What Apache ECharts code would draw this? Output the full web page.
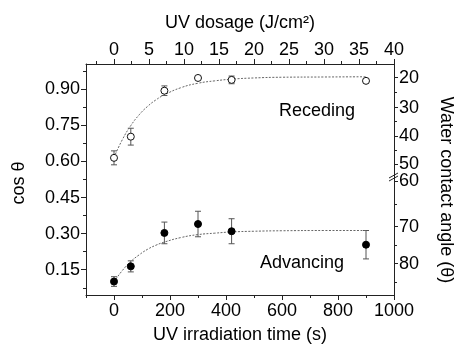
<!DOCTYPE html>
<html lang="en">
<head>
  <meta charset="UTF-8">
  <title>UV irradiation</title>
  <style>
    html, body { margin: 0; padding: 0; background: #fff; }
    #main { width: 455px; height: 347px; }
  </style>
</head>
<body>
  <div id="main"></div>
  <script src="https://cdn.jsdelivr.net/npm/echarts@6/dist/echarts.min.js"></script>
  <script>
    // measured points
    var timeS = [0, 60, 180, 300, 420, 900];
    var recedingCos = [0.615, 0.703, 0.894, 0.947, 0.939, 0.935];
    var recedingErr = [0.029, 0.035, 0.020, 0.005, 0.016, 0.008];
    var advancingCos = [0.101, 0.164, 0.303, 0.340, 0.310, 0.254];
    var advancingErr = [0.020, 0.023, 0.045, 0.053, 0.052, 0.059];

    // fitted curves
    var fitTime = [0, 30, 60, 90, 120, 150, 180, 240, 300, 360, 420, 500, 600, 750, 900];
    var recedingFit = [0.617, 0.691, 0.749, 0.794, 0.829, 0.856, 0.877, 0.907, 0.925, 0.935, 0.942, 0.947, 0.950, 0.951, 0.952];
    var advancingFit = [0.100, 0.147, 0.184, 0.212, 0.235, 0.252, 0.265, 0.284, 0.296, 0.302, 0.307, 0.310, 0.312, 0.313, 0.313];

    // tick labels
    var timeMajor = [0, 200, 400, 600, 800, 1000];
    var timeMinor = [-100, 100, 300, 500, 700, 900];
    var dosageMajor = [0, 5, 10, 15, 20, 25, 30, 35, 40];
    var dosageMinor = [-2.5, 2.5, 7.5, 12.5, 17.5, 22.5, 27.5, 32.5, 37.5];
    var cosMajor = [0.15, 0.30, 0.45, 0.60, 0.75, 0.90];
    var cosMinor = [0.075, 0.225, 0.375, 0.525, 0.675, 0.825, 0.975];
    // right axis: angle labels and where they sit on the cos scale
    var angleLabels = [20, 30, 40, 50, 60, 70, 80];
    var angleAt = [0.948, 0.824, 0.704, 0.590, 0.517, 0.329, 0.175];
    var angleMinorAt = [0.886, 0.766, 0.647, 0.421, 0.252, 0.096];

    var font = 'Liberation Sans';
    var axisColor = '#222';

    function errData(vals, errs) {
      return timeS.map(function (t, i) { return [t, vals[i] - errs[i], vals[i] + errs[i]]; });
    }

    function errorBar(params, api) {
      var x = api.value(0);
      var lo = api.coord([x, api.value(1)]);
      var hi = api.coord([x, api.value(2)]);
      var w = 3;
      var st = { stroke: '#555', lineWidth: 1 };
      return {
        type: 'group',
        children: [
          { type: 'line', shape: { x1: lo[0], y1: lo[1], x2: hi[0], y2: hi[1] }, style: st },
          { type: 'line', shape: { x1: lo[0] - w, y1: lo[1], x2: lo[0] + w, y2: lo[1] }, style: st },
          { type: 'line', shape: { x1: hi[0] - w, y1: hi[1], x2: hi[0] + w, y2: hi[1] }, style: st }
        ]
      };
    }

    function plain(v) { return String(v); }

    function mainAxis(opt) {
      return Object.assign({
        type: 'value',
        gridIndex: 0,
        splitLine: { show: false },
        axisLine: { show: true, onZero: false, lineStyle: { color: axisColor, width: 1 } },
        axisTick: { show: true, inside: false, length: 5, lineStyle: { color: axisColor } },
        axisLabel: { color: '#000', fontSize: 18, fontFamily: font }
      }, opt);
    }

    function minorAxis(opt) {
      return Object.assign({
        type: 'value',
        gridIndex: 1,
        splitLine: { show: false },
        axisLine: { show: false, onZero: false },
        axisLabel: { show: false }
      }, opt);
    }

    var chart = echarts.init(document.getElementById('main'));
    chart.setOption({
      animation: false,
      backgroundColor: '#fff',
      grid: [
        { left: 86, right: 61, top: 64, bottom: 52 },
        { left: 86, right: 61, top: 64, bottom: 52 }
      ],
      xAxis: [
        mainAxis({
          position: 'bottom', min: -100, max: 1000,
          axisTick: { show: true, length: 5, customValues: timeMajor, lineStyle: { color: axisColor } },
          axisLabel: { color: '#000', fontSize: 18, fontFamily: font, margin: 7, customValues: timeMajor, formatter: plain }
        }),
        mainAxis({
          position: 'top', min: -4, max: 40,
          axisTick: { show: true, length: 5, customValues: dosageMajor, lineStyle: { color: axisColor } },
          axisLabel: { color: '#000', fontSize: 18, fontFamily: font, margin: 5, customValues: dosageMajor, formatter: plain }
        }),
        minorAxis({
          position: 'bottom', min: -100, max: 1000,
          axisTick: { show: true, length: 3, customValues: timeMinor, lineStyle: { color: axisColor } }
        }),
        minorAxis({
          position: 'top', min: -4, max: 40,
          axisTick: { show: true, length: 3, customValues: dosageMinor, lineStyle: { color: axisColor } }
        })
      ],
      yAxis: [
        mainAxis({
          position: 'left', min: 0.045, max: 1.005,
          axisTick: { show: true, length: 5, customValues: cosMajor, lineStyle: { color: axisColor } },
          axisLabel: {
            color: '#000', fontSize: 18, fontFamily: font, margin: 6, customValues: cosMajor,
            formatter: function (v) { return v.toFixed(2); }
          }
        }),
        mainAxis({
          position: 'right', min: 0.045, max: 1.005,
          axisTick: { show: true, length: 4, customValues: angleAt, lineStyle: { color: axisColor } },
          axisLabel: {
            color: '#000', fontSize: 18, fontFamily: font, margin: 5, customValues: angleAt,
            formatter: function (v) {
              for (var i = 0; i < angleAt.length; i++) {
                if (Math.abs(angleAt[i] - v) < 1e-6) return String(angleLabels[i]);
              }
              return '';
            }
          }
        }),
        minorAxis({
          position: 'left', min: 0.045, max: 1.005,
          axisTick: { show: true, length: 3, customValues: cosMinor, lineStyle: { color: axisColor } }
        }),
        minorAxis({
          position: 'right', min: 0.045, max: 1.005,
          axisTick: { show: true, length: 3, customValues: angleMinorAt, lineStyle: { color: axisColor } }
        })
      ],
      series: [
        {
          name: 'Receding fit', type: 'line', xAxisIndex: 0, yAxisIndex: 0,
          data: fitTime.map(function (t, i) { return [t, recedingFit[i]]; }),
          smooth: true, showSymbol: false, symbol: 'none',
          lineStyle: { color: '#666', width: 1, type: [2, 1.5] }
        },
        {
          name: 'Advancing fit', type: 'line', xAxisIndex: 0, yAxisIndex: 0,
          data: fitTime.map(function (t, i) { return [t, advancingFit[i]]; }),
          smooth: true, showSymbol: false, symbol: 'none',
          lineStyle: { color: '#666', width: 1, type: [2, 1.5] }
        },
        {
          name: 'Receding err', type: 'custom', xAxisIndex: 0, yAxisIndex: 0,
          renderItem: errorBar, data: errData(recedingCos, recedingErr), z: 3
        },
        {
          name: 'Advancing err', type: 'custom', xAxisIndex: 0, yAxisIndex: 0,
          renderItem: errorBar, data: errData(advancingCos, advancingErr), z: 3
        },
        {
          name: 'Receding', type: 'scatter', xAxisIndex: 0, yAxisIndex: 0,
          data: timeS.map(function (t, i) { return [t, recedingCos[i]]; }),
          symbol: 'circle', symbolSize: 7, z: 5,
          itemStyle: { color: '#fff', borderColor: '#111', borderWidth: 1, opacity: 1 }
        },
        {
          name: 'Advancing', type: 'scatter', xAxisIndex: 0, yAxisIndex: 0,
          data: timeS.map(function (t, i) { return [t, advancingCos[i]]; }),
          symbol: 'circle', symbolSize: 7, z: 5,
          itemStyle: { color: '#000', borderColor: '#000', borderWidth: 1, opacity: 1 }
        }
      ],
      graphic: [
        { type: 'text', x: 240, y: 335, style: { text: 'UV irradiation time (s)', font: '18px "Liberation Sans"', fill: '#000', align: 'center', verticalAlign: 'middle' } },
        { type: 'text', x: 240, y: 23, style: { text: 'UV dosage (J/cm²)', font: '18px "Liberation Sans"', fill: '#000', align: 'center', verticalAlign: 'middle' } },
        { type: 'text', x: 19, y: 183, rotation: Math.PI / 2, style: { text: 'cos θ', font: '18px "Liberation Sans"', fill: '#000', align: 'center', verticalAlign: 'middle' } },
        { type: 'text', x: 446, y: 190, rotation: -Math.PI / 2, style: { text: 'Water contact angle (θ)', font: '18px "Liberation Sans"', fill: '#000', align: 'center', verticalAlign: 'middle' } },
        { type: 'text', x: 279, y: 111, style: { text: 'Receding', font: '18px "Liberation Sans"', fill: '#000', align: 'left', verticalAlign: 'middle' } },
        { type: 'text', x: 260, y: 263, style: { text: 'Advancing', font: '18px "Liberation Sans"', fill: '#000', align: 'left', verticalAlign: 'middle' } },
        // axis break mark on the right axis
        { type: 'line', shape: { x1: 389, y1: 178, x2: 398, y2: 173 }, style: { stroke: '#222', lineWidth: 1 }, z: 10 },
        { type: 'line', shape: { x1: 389, y1: 181, x2: 398, y2: 176 }, style: { stroke: '#222', lineWidth: 1 }, z: 10 }
      ]
    });
  </script>
</body>
</html>
